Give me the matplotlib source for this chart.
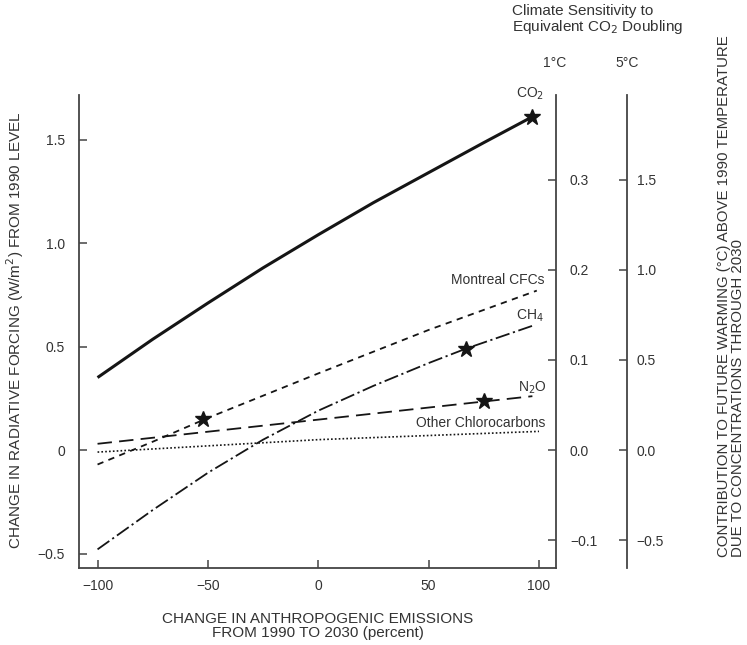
import matplotlib
matplotlib.use("Agg")
import matplotlib.pyplot as plt

plt.rcParams['font.family'] = ['Liberation Sans', 'DejaVu Sans']

# change in emissions 1990-2030 (%) vs change in radiative forcing (W/m2)
co2_x = [-100, -75, -50, -25, 0, 25, 50, 75, 97]
co2_y = [0.35, 0.535, 0.71, 0.88, 1.04, 1.195, 1.34, 1.485, 1.61]
cfc_x = [-100, -75, -50, 0, 50, 99]
cfc_y = [-0.07, 0.04, 0.155, 0.37, 0.58, 0.77]
ch4_x = [-100, -75, -50, -25, 0, 25, 50, 67, 97]
ch4_y = [-0.48, -0.29, -0.11, 0.05, 0.19, 0.31, 0.42, 0.49, 0.60]
n2o_x = [-100, 97]
n2o_y = [0.03, 0.26]
other_x = [-100, 0, 100]
other_y = [-0.01, 0.05, 0.09]

# stars
star_x = [97, -52, 67, 75]
star_y = [1.61, 0.15, 0.49, 0.235]

# W/m2 per degree C for the two climate sensitivities
sens_1c = 4.35
sens_5c = 0.87

xticks = [-100, -50, 0, 50, 100]
xlabels = ['\u2212100', '\u221250', '0', '50', '100']
yticks = [-0.5, 0, 0.5, 1.0, 1.5]
ylabels = ['\u22120.5', '0', '0.5', '1.0', '1.5']
t1_ticks = [-0.1, 0.0, 0.1, 0.2, 0.3]
t1_labels = ['\u22120.1', '0.0', '0.1', '0.2', '0.3']
t5_ticks = [-0.5, 0.0, 0.5, 1.0, 1.5]
t5_labels = ['\u22120.5', '0.0', '0.5', '1.0', '1.5']

txt = '#333333'
ink = '#151515'
spc = '#444444'

fig = plt.figure(figsize=(7.47, 6.45), dpi=100)
ax = fig.add_axes([79/747, 1-568/645, (556-79)/747, (568-95)/645])

ax.plot(co2_x, co2_y, color=ink, lw=2.2, solid_capstyle='butt')
ax.plot(cfc_x, cfc_y, color=ink, lw=1.3, dashes=(3.5, 3))
ax.plot(ch4_x, ch4_y, color=ink, lw=1.3, dashes=(8, 2, 1.2, 2))
ax.plot(n2o_x, n2o_y, color=ink, lw=1.3, dashes=(8, 4))
ax.plot(other_x, other_y, color=ink, lw=1.2, dashes=(1, 1.3))
ax.plot(star_x, star_y, ls='none', marker='*', ms=12, color=ink, clip_on=False)

ax.set_xlim(-108.4, 107.7)
ax.set_ylim(-0.57, 1.715)
ax.set_xticks(xticks)
ax.set_xticklabels(xlabels)
ax.set_yticks(yticks)
ax.set_yticklabels(ylabels)
ax.tick_params(direction='in', length=6, width=1.1, colors=spc, labelcolor=txt, labelsize=10)
ax.tick_params(axis='y', pad=10)
ax.tick_params(axis='x', pad=8)
for s in ['top', 'right']:
    ax.spines[s].set_visible(False)
for s in ['left', 'bottom']:
    ax.spines[s].set_color(spc)
    ax.spines[s].set_linewidth(1.3)

lo, hi = ax.get_ylim()
ax2 = ax.twinx()
ax2.set_ylim(lo / sens_1c, hi / sens_1c)
ax2.set_yticks(t1_ticks)
ax2.set_yticklabels(t1_labels)
ax3 = ax.twinx()
ax3.set_ylim(lo / sens_5c, hi / sens_5c)
ax3.set_yticks(t5_ticks)
ax3.set_yticklabels(t5_labels)
ax3.spines['right'].set_position(('axes', 1.149))
for a, p in [(ax2, 10), (ax3, 7)]:
    for s in ['top', 'left', 'bottom']:
        a.spines[s].set_visible(False)
    a.spines['right'].set_color(spc)
    a.spines['right'].set_linewidth(1.3)
    a.tick_params(direction='in', length=6, width=1.1, colors=spc, labelcolor=txt,
                  labelsize=10, pad=p)

# line labels
ax.text(96, 1.72, 'CO$_2$', ha='center', va='center', fontsize=10, color=txt, clip_on=False)
ax.text(102.5, 0.82, 'Montreal CFCs', ha='right', va='center', fontsize=10, color=txt)
ax.text(96, 0.65, 'CH$_4$', ha='center', va='center', fontsize=10, color=txt)
ax.text(97, 0.30, 'N$_2$O', ha='center', va='center', fontsize=10, color=txt)
ax.text(102.7, 0.13, 'Other Chlorocarbons', ha='right', va='center', fontsize=10, color=txt)

# axis titles
fig.text(15/747, 1-330/645, 'CHANGE IN RADIATIVE FORCING (W/m$^2$) FROM 1990 LEVEL',
         rotation=90, ha='center', va='center', fontsize=11, color=txt)
fig.text(318/747, 1-626/645, 'CHANGE IN ANTHROPOGENIC EMISSIONS\nFROM 1990 TO 2030 (percent)',
         ha='center', va='center', fontsize=11, color=txt, linespacing=1.05)
fig.text(731/747, 1-557/645,
         'CONTRIBUTION TO FUTURE WARMING (\u00b0C) ABOVE 1990 TEMPERATURE\nDUE TO CONCENTRATIONS THROUGH 2030',
         rotation=90, ha='center', va='bottom', multialignment='left', fontsize=10.8,
         color=txt, linespacing=0.95)
fig.text(512/747, 1-4/645, 'Climate Sensitivity to\nEquivalent CO$_2$ Doubling',
         ha='left', va='top', fontsize=11, color=txt, linespacing=1.0)
fig.text(555/747, 1-63/645, '1\u00b0C', ha='center', va='center', fontsize=10, color=txt)
fig.text(627/747, 1-63/645, '5\u00b0C', ha='center', va='center', fontsize=10, color=txt)

fig.savefig('out.png', dpi=100)
